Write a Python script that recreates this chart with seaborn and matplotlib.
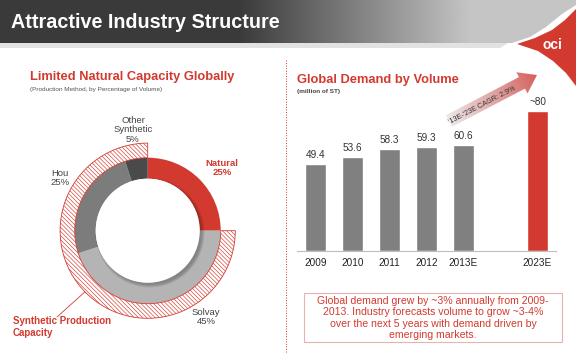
import numpy as np
import pandas as pd
import matplotlib
matplotlib.use('Agg')
import matplotlib.pyplot as plt
from matplotlib.patches import Polygon, Rectangle, Circle
from matplotlib.colors import LinearSegmentedColormap
import seaborn as sns

# ---- data ----
methods = ['Natural', 'Solvay', 'Hou', 'Other\nSynthetic']
shares = [25, 45, 25, 5]
method_colors = ['#d33a2f', '#b4b4b4', '#7c7c7c', '#4a4a4a']

years = ['2009', '2010', '2011', '2012', '2013E', '2023E']
demand = [49.4, 53.6, 58.3, 59.3, 60.6, 80]
value_labels = ['49.4', '53.6', '58.3', '59.3', '60.6', '~80']
slots = ['2009', '2010', '2011', '2012', '2013E', '', '2023E']

RED = '#d33a2f'
GRAY = '#808080'
DARK = '#333333'

sns.set_theme(style='white')
plt.rcParams['font.family'] = ['Liberation Sans', 'DejaVu Sans']
plt.rcParams['hatch.linewidth'] = 0.45
plt.rcParams['hatch.color'] = RED

W, H = 576, 353
fig = plt.figure(figsize=(W / 100, H / 100), dpi=100)
fig.patch.set_facecolor('white')

# overlay axes in pixel coordinates for header, texts and decorations
ov = fig.add_axes([0, 0, 1, 1])
ov.set_xlim(0, W)
ov.set_ylim(H, 0)
ov.axis('off')
ov.patch.set_alpha(0)

# header gradient bar
xs = np.linspace(0, W, 600)
g = np.clip((xs - 240) / (470 - 240), 0, 1)
shade = 0.23 + g * (0.77 - 0.23)
grad = np.tile(shade, (10, 1))
hdr_clip = Polygon([(0, 0), (W, 0), (W, 5), (562, 14), (546, 27), (530, 37), (512, 43), (0, 43)],
                   closed=True, transform=ov.transData, facecolor='none', edgecolor='none')
ov.add_patch(hdr_clip)
im = ov.imshow(grad, extent=[0, W, 43, 0], cmap='gray', vmin=0, vmax=1, aspect='auto', zorder=1)
im.set_clip_path(hdr_clip)
ov.add_patch(Polygon([(0, 43), (508, 43), (500, 48), (0, 48)], closed=True,
                     facecolor='#e2e2e2', edgecolor='none', zorder=1))
# logo shape
ov.add_patch(Polygon([(517, 44), (535, 38), (552, 30), (565, 20), (576, 9), (576, 86),
                      (566, 73), (553, 61), (538, 51)], closed=True,
                     facecolor=RED, edgecolor='none', zorder=2))
ov.text(552, 45, 'oci', color='white', fontsize=10, fontweight='bold', ha='center', va='center', zorder=3)
ov.text(11, 22, 'Attractive Industry Structure', color='white', fontsize=14.2, fontweight='bold',
        ha='left', va='center', zorder=3)

# panel titles
ov.text(30, 77, 'Limited Natural Capacity Globally', color=RED, fontsize=9.3, fontweight='bold',
        ha='left', va='center')
ov.text(30, 89, '(Production Method, by Percentage of Volume)', color='#555555', fontsize=4.6,
        ha='left', va='center')
ov.text(297, 80, 'Global Demand by Volume', color=RED, fontsize=9.3, fontweight='bold',
        ha='left', va='center')
ov.text(297, 92, '(million of ST)', color='#444444', fontsize=4.6, fontweight='bold',
        ha='left', va='center')

# divider
ov.plot([286, 286], [60, 352], color=RED, lw=0.7, linestyle=':')

# ---- donut ----
cx, cy, R = 147.7, 230.7, 73.0
box = 200
axd = fig.add_axes([(cx - box / 2) / W, (H - cy - box / 2) / H, box / W, box / H])
r_in = 52.0 / R
wedges, _ = axd.pie(shares, colors=method_colors, startangle=90, counterclock=False,
                    radius=1.0, wedgeprops=dict(width=1 - r_in, edgecolor='none'))
synthetic = sum(shares[1:])
ring, _ = axd.pie([shares[0], synthetic], colors=['white', 'white'], startangle=90,
                  counterclock=False, radius=1.2, wedgeprops=dict(width=0.2, linewidth=0.6))
ring[0].set_visible(False)
ring[1].set_edgecolor(RED)
ring[1].set_hatch('\\\\\\\\\\\\\\\\')
# soft inner shadow and hole
for k in range(4):
    axd.add_patch(Circle((0.03, -0.03), r_in + 0.012 * (3 - k), color='black', alpha=0.07, lw=0))
axd.add_patch(Circle((0, 0), r_in, color='white', lw=0))
lim = box / 2 / R
axd.set_xlim(-lim, lim)
axd.set_ylim(-lim, lim)
axd.set_aspect('equal')
axd.axis('off')

# donut labels
fs = 6.8
ov.text(133, 130, 'Other\nSynthetic\n5%', color='#444444', fontsize=fs, ha='center', va='center',
        linespacing=1.1)
ov.text(60, 178, 'Hou\n25%', color='#444444', fontsize=fs, ha='center', va='center', linespacing=1.1)
ov.text(222, 168, 'Natural\n25%', color=RED, fontsize=fs, fontweight='bold', ha='center', va='center',
        linespacing=1.1)
ov.text(206, 317, 'Solvay\n45%', color='#444444', fontsize=fs, ha='center', va='center', linespacing=1.1)
ov.text(148, 227, 'Total Global\nCapacity:', color=RED, fontsize=fs, ha='center', va='center',
        linespacing=1.1)
ov.text(148, 241, '73.5 mn ST', color='#444444', fontsize=fs, ha='center', va='center')
ov.plot([87, 57], [290, 317], color=RED, lw=0.6)
ov.plot([87], [290], marker='o', ms=3.5, color=RED)
ov.text(13, 327, 'Synthetic Production\nCapacity', color=RED, fontsize=7, fontweight='bold',
        ha='left', va='center', linespacing=1.2)

# ---- bars ----
base_px, top_px = 251, 100
px_per_unit = 1.755
axb = fig.add_axes([297 / W, (H - base_px) / H, 259 / W, (base_px - top_px) / H])
df = pd.DataFrame({'year': years, 'demand': demand})
palette = {y: (RED if y.startswith('2023') else GRAY) for y in years}
sns.barplot(data=df, x='year', y='demand', order=slots, hue='year', palette=palette,
            width=0.57, saturation=1, legend=False, ax=axb)
label_of = dict(zip(years, value_labels))
for p in axb.patches:
    xc = p.get_x() + p.get_width() / 2
    yr = slots[int(round(xc))]
    if yr in label_of:
        axb.text(xc, p.get_height() + 2.2, label_of[yr], ha='center', va='bottom',
                 fontsize=7.2, color=DARK)
axb.set_xlim(-0.5, len(slots) - 0.5)
axb.set_ylim(0, (base_px - top_px) / px_per_unit)
axb.set_xlabel('')
axb.set_ylabel('')
axb.set_yticks([])
sns.despine(ax=axb, left=True)
axb.spines['bottom'].set_color('#bdbdbd')
axb.spines['bottom'].set_linewidth(0.8)
axb.tick_params(axis='x', length=0, pad=5, labelsize=7.2, labelcolor='#222222')
axb.patch.set_alpha(0)

# growth arrow with gradient
tail = np.array([449.0, 121.0])
tip = np.array([537.0, 75.0])
u = (tip - tail) / np.linalg.norm(tip - tail)
n = np.array([-u[1], u[0]])
neck = tip - u * 17
pts = [tail + n * 6.5, neck + n * 6.5, neck + n * 12, tip, neck - n * 12, neck - n * 6.5, tail - n * 6.5]
arrow = Polygon(pts, closed=True, facecolor='none', edgecolor='none', transform=ov.transData)
ov.add_patch(arrow)
gx, gy = np.meshgrid(np.linspace(430, 545, 200), np.linspace(65, 135, 120))
t = np.clip(((gx - tail[0]) * u[0] + (gy - tail[1]) * u[1]) / np.linalg.norm(tip - tail), 0, 1)
acmap = LinearSegmentedColormap.from_list('arr', ['#ece8e8', '#e0a8a6', '#d6605c'])
aim = ov.imshow(t, extent=[430, 545, 135, 65], cmap=acmap, vmin=0, vmax=1, aspect='auto', zorder=4)
aim.set_clip_path(arrow)
ang = np.degrees(np.arctan2(-(tip[1] - tail[1]), tip[0] - tail[0]))
ov.text(482, 105, "'13E-'23E CAGR: 2.9%", rotation=ang, rotation_mode='anchor', ha='center',
        va='center', fontsize=5.2, color=DARK, zorder=5)

# note box
ov.add_patch(Rectangle((304, 293), 258, 49, facecolor='none', edgecolor='#e6b3b1', lw=0.8))
ov.text(433, 318, 'Global demand grew by ~3% annually from 2009-\n2013. Industry forecasts volume to grow ~3-4%\n'
        'over the next 5 years with demand driven by\nemerging markets.', color=RED, fontsize=7.6,
        ha='center', va='center', linespacing=1.15)

ov.set_xlim(0, W)
ov.set_ylim(H, 0)
fig.savefig('out.png', dpi=100)
